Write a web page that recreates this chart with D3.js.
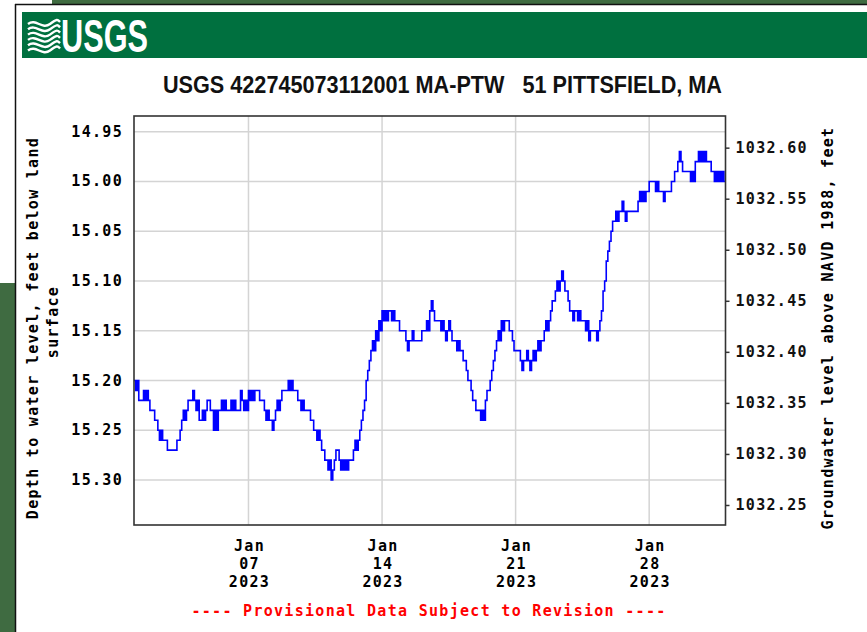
<!DOCTYPE html>
<html>
<head>
<meta charset="utf-8">
<script src="https://cdn.jsdelivr.net/npm/d3@7/dist/d3.min.js"></script>
<style>
body { margin: 0; background: #fff; }
svg text { font-family: "DejaVu Sans Mono", monospace; font-weight: bold; }
</style>
</head>
<body>
<svg id="chart" width="867" height="632"></svg>
<script>
// Groundwater level, USGS 422745073112001, January 2023
// readings every 2 hours from Jan 1 00:00, depth below land surface (ft)
var startTime = Date.UTC(2023, 0, 1);
var endTime = Date.UTC(2023, 1, 1);
var stepHours = 2;

var depthFt = [
  15.20,15.21,15.20,15.22,15.22,15.22,15.21,15.22,15.21,15.22,15.23,15.23,
  15.23,15.24,15.24,15.25,15.26,15.25,15.26,15.26,15.26,15.27,15.27,15.27,
  15.27,15.27,15.27,15.26,15.26,15.25,15.24,15.23,15.24,15.23,15.22,15.22,
  15.22,15.21,15.22,15.23,15.22,15.24,15.24,15.23,15.24,15.23,15.22,15.22,
  15.23,15.23,15.25,15.23,15.25,15.23,15.23,15.22,15.23,15.22,15.23,15.23,
  15.23,15.22,15.23,15.22,15.23,15.23,15.23,15.21,15.22,15.23,15.22,15.23,
  15.21,15.22,15.21,15.22,15.21,15.21,15.21,15.22,15.22,15.22,15.23,15.24,
  15.23,15.24,15.24,15.25,15.24,15.23,15.22,15.23,15.22,15.21,15.21,15.21,
  15.21,15.20,15.21,15.20,15.21,15.21,15.21,15.22,15.22,15.23,15.22,15.23,
  15.23,15.23,15.23,15.24,15.24,15.25,15.25,15.26,15.25,15.26,15.27,15.27,
  15.28,15.28,15.29,15.28,15.30,15.29,15.28,15.27,15.27,15.28,15.29,15.28,
  15.29,15.28,15.29,15.28,15.28,15.28,15.27,15.26,15.27,15.26,15.25,15.24,
  15.23,15.22,15.20,15.19,15.18,15.17,15.16,15.17,15.15,15.16,15.14,15.15,
  15.13,15.14,15.13,15.14,15.13,15.13,15.14,15.13,15.14,15.14,15.14,15.15,
  15.15,15.15,15.15,15.16,15.17,15.16,15.16,15.15,15.16,15.16,15.16,15.16,
  15.16,15.15,15.15,15.15,15.14,15.15,15.13,15.12,15.13,15.14,15.14,15.14,
  15.14,15.15,15.14,15.15,15.16,15.15,15.14,15.15,15.16,15.16,15.16,15.17,
  15.16,15.17,15.17,15.18,15.18,15.19,15.20,15.20,15.21,15.22,15.22,15.23,
  15.23,15.23,15.24,15.23,15.24,15.22,15.21,15.21,15.20,15.19,15.18,15.17,
  15.16,15.15,15.16,15.14,15.15,15.14,15.14,15.14,15.15,15.15,15.16,15.17,
  15.17,15.17,15.17,15.18,15.19,15.18,15.18,15.17,15.18,15.19,15.18,15.17,
  15.18,15.17,15.16,15.17,15.16,15.16,15.15,15.14,15.15,15.14,15.13,15.12,
  15.12,15.11,15.10,15.11,15.10,15.09,15.10,15.11,15.11,15.12,15.13,15.13,
  15.14,15.13,15.13,15.14,15.13,15.14,15.14,15.14,15.15,15.14,15.16,15.15,
  15.15,15.15,15.15,15.16,15.15,15.14,15.13,15.11,15.10,15.08,15.07,15.06,
  15.05,15.04,15.04,15.03,15.04,15.03,15.03,15.02,15.03,15.04,15.03,15.03,
  15.03,15.03,15.03,15.03,15.03,15.02,15.01,15.02,15.01,15.02,15.01,15.01,
  15.00,15.00,15.00,15.00,15.01,15.00,15.01,15.01,15.01,15.02,15.01,15.01,
  15.01,15.01,15.00,15.00,14.99,14.99,14.98,14.97,14.98,14.99,14.99,14.99,
  14.99,14.99,15.00,14.99,15.00,14.98,14.98,14.97,14.98,14.97,14.98,14.97,
  14.98,14.98,14.98,14.99,14.99,15.00,14.99,15.00,14.99,15.00,14.99,15.00
];

var depthTicks = [14.95, 15.00, 15.05, 15.10, 15.15, 15.20, 15.25, 15.30];
var elevTicks = [1032.25, 1032.30, 1032.35, 1032.40, 1032.45, 1032.50, 1032.55, 1032.60];
var dateTicks = ["2023-01-07", "2023-01-14", "2023-01-21", "2023-01-28"];

var titleText = "USGS 422745073112001 MA-PTW\u00a0\u00a0\u00a051 PITTSFIELD, MA";
var leftTitle = ["Depth to water level, feet below land", "surface"];
var rightTitle = "Groundwater level above NAVD 1988, feet";
var footText = "---- Provisional Data Subject to Revision ----";

var svg = d3.select("#chart");

// page frame pieces around the graph image
svg.append("rect").attr("x", 52).attr("y", 0).attr("width", 815).attr("height", 4).attr("fill", "#3f6b41");
svg.append("rect").attr("x", 0).attr("y", 283).attr("width", 15).attr("height", 349).attr("fill", "#3f6b41");
svg.append("line").attr("x1", 15.5).attr("x2", 15.5).attr("y1", 4).attr("y2", 632).attr("stroke", "#111").attr("stroke-width", 1.5);
svg.append("line").attr("x1", 15).attr("x2", 867).attr("y1", 4.5).attr("y2", 4.5).attr("stroke", "#111").attr("stroke-width", 1.5);

// USGS banner
svg.append("rect").attr("x", 22).attr("y", 12).attr("width", 845).attr("height", 46).attr("fill", "#00703f");
var logo = svg.append("g").attr("fill", "none").attr("stroke", "#fff").attr("stroke-width", 2.4);
[0, 1, 2, 3, 4, 5].forEach(function(k) {
  var yy = 21 + k * 5.3;
  logo.append("path")
      .attr("d", "M28," + (yy + 3) + " C36," + (yy - 3) + " 42," + (yy + 9) + " 50," + (yy + 3) +
                 " S58," + (yy - 1) + " 60," + (yy + 1));
});
svg.append("text")
   .attr("x", 61).attr("y", 52)
   .attr("textLength", 87).attr("lengthAdjust", "spacingAndGlyphs")
   .style("font-family", "'Liberation Sans Narrow', 'Arial Narrow', 'Liberation Sans', sans-serif")
   .style("font-size", "46px").style("font-weight", "bold")
   .attr("fill", "#fff")
   .text("USGS");

// title
svg.append("text")
   .attr("x", 163).attr("y", 93)
   .attr("textLength", 559).attr("lengthAdjust", "spacingAndGlyphs")
   .style("font-family", "'Liberation Sans Narrow', 'Arial Narrow', 'Liberation Sans', sans-serif")
   .style("font-size", "24px").style("font-weight", "bold")
   .attr("fill", "#111")
   .text(titleText);

// scales
var plot = { left: 134, right: 725.5, top: 116, bottom: 525 };

var x = d3.scaleUtc()
          .domain([new Date(startTime), new Date(endTime)])
          .range([plot.left, plot.right]);

var y = d3.scaleLinear()
          .domain([14.9342, 15.3452])
          .range([plot.top, plot.bottom]);

var yRight = d3.scaleLinear()
               .domain([1032.631, 1032.2304])
               .range([plot.top, plot.bottom]);

var series = depthFt.map(function(v, i) {
  return { t: new Date(startTime + i * stepHours * 3600 * 1000), v: v };
});
// hold the last reading to the end of the period
series.push({ t: new Date(endTime), v: depthFt[depthFt.length - 1] });

var tickFont = { size: "15px", spacing: "1.3px" };

// grid
var grid = svg.append("g").attr("stroke", "#d4d4d4").attr("stroke-width", 1.5);
grid.selectAll(".hgrid").data(depthTicks).enter().append("line")
    .attr("x1", plot.left).attr("x2", plot.right)
    .attr("y1", d => y(d)).attr("y2", d => y(d));
grid.selectAll(".vgrid").data(dateTicks).enter().append("line")
    .attr("x1", d => x(new Date(d))).attr("x2", d => x(new Date(d)))
    .attr("y1", plot.top).attr("y2", plot.bottom);

// data line
svg.append("clipPath").attr("id", "clip").append("rect")
   .attr("x", plot.left).attr("y", plot.top)
   .attr("width", plot.right - plot.left).attr("height", plot.bottom - plot.top);

var line = d3.line()
             .x(d => x(d.t))
             .y(d => y(d.v))
             .curve(d3.curveStepAfter);

svg.append("path")
   .datum(series)
   .attr("clip-path", "url(#clip)")
   .attr("fill", "none")
   .attr("stroke", "#0000ff")
   .attr("stroke-width", 1.6)
   .attr("d", line);

// frame
svg.append("rect")
   .attr("x", plot.left).attr("y", plot.top)
   .attr("width", plot.right - plot.left).attr("height", plot.bottom - plot.top)
   .attr("fill", "none").attr("stroke", "#333").attr("stroke-width", 1.6);

// left axis labels
svg.append("g").selectAll("text").data(depthTicks).enter().append("text")
   .attr("x", 123).attr("y", d => y(d) + 5)
   .attr("text-anchor", "end")
   .style("font-size", tickFont.size).style("letter-spacing", tickFont.spacing)
   .text(d => d.toFixed(2));

// right axis
var rightAxis = d3.axisRight(yRight)
                  .tickValues(elevTicks)
                  .tickSize(4)
                  .tickPadding(6)
                  .tickFormat(d => d.toFixed(2));
var rg = svg.append("g")
            .attr("transform", `translate(${plot.right}, 0)`)
            .call(rightAxis);
rg.select(".domain").remove();
rg.selectAll("line").attr("stroke", "#333").attr("stroke-width", 1.5);
rg.selectAll("text")
  .attr("dy", null).attr("y", 5)
  .attr("fill", "#111")
  .style("font-size", tickFont.size).style("letter-spacing", tickFont.spacing);

// date labels
var fmtMonth = d3.utcFormat("%b"), fmtDay = d3.utcFormat("%d"), fmtYear = d3.utcFormat("%Y");
var dl = svg.append("g").selectAll("text").data(dateTicks).enter().append("text")
            .attr("text-anchor", "middle")
            .style("font-size", tickFont.size).style("letter-spacing", tickFont.spacing);
[fmtMonth, fmtDay, fmtYear].forEach(function(f, k) {
  dl.append("tspan")
    .attr("x", d => x(new Date(d)) + 1)
    .attr("y", 551 + k * 18)
    .text(d => f(new Date(d)));
});

// axis titles
leftTitle.forEach(function(t, k) {
  svg.append("text")
     .attr("transform", `translate(${38 + k * 20}, ${k ? 322 : 328}) rotate(-90)`)
     .attr("text-anchor", "middle")
     .style("font-size", tickFont.size).style("letter-spacing", tickFont.spacing)
     .text(t);
});
svg.append("text")
   .attr("transform", "translate(833, 328) rotate(-90)")
   .attr("text-anchor", "middle")
   .style("font-size", tickFont.size).style("letter-spacing", tickFont.spacing)
   .text(rightTitle);

// provisional note
svg.append("text")
   .attr("x", 429).attr("y", 616)
   .attr("text-anchor", "middle")
   .attr("fill", "#ff0000")
   .style("font-size", tickFont.size).style("letter-spacing", tickFont.spacing)
   .text(footText);
</script>
</body>
</html>
